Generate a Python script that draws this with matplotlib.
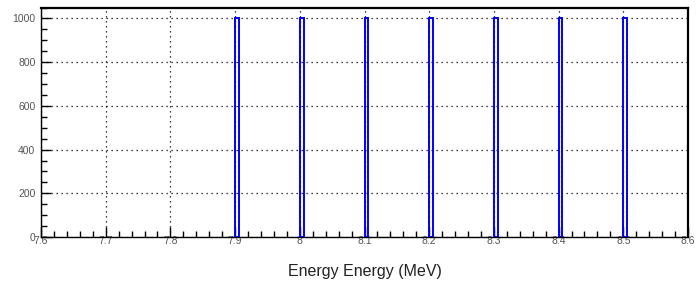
import matplotlib
matplotlib.use("Agg")
import matplotlib.pyplot as plt
from matplotlib.ticker import MultipleLocator

plt.rcParams['font.family'] = ['Liberation Sans', 'DejaVu Sans']

# Data: line energies (MeV) and counts
energies = [7.9, 8.0, 8.1, 8.2, 8.3, 8.4, 8.5]
counts = [1000, 1000, 1000, 1000, 1000, 1000, 1000]
bin_width = 0.006
x_ticks = [7.6, 7.7, 7.8, 7.9, 8.0, 8.1, 8.2, 8.3, 8.4, 8.5, 8.6]
x_tick_labels = ["7.6", "7.7", "7.8", "7.9", "8", "8.1", "8.2", "8.3", "8.4", "8.5", "8.6"]
x_label = "Energy Energy (MeV)"

fig = plt.figure(figsize=(6.98, 2.89), dpi=100)
ax = fig.add_axes([41/698, 1-237/289, (688-41)/698, (237-7.5)/289])

ax.bar(energies, counts, width=bin_width, align='edge', fill=False,
       edgecolor='#0000ff', linewidth=1.4, zorder=3)

ax.set_xlim(7.6, 8.6)
ax.set_ylim(0, 1050)
ax.set_xticks(x_ticks)
ax.set_xticklabels(x_tick_labels)
ax.xaxis.set_minor_locator(MultipleLocator(0.02))
ax.yaxis.set_major_locator(MultipleLocator(200))
ax.yaxis.set_minor_locator(MultipleLocator(50))

ax.tick_params(axis='both', which='both', direction='in', labelsize=7.5,
               labelcolor='#555555', width=1.0, color='black')
ax.tick_params(axis='x', which='major', length=7, pad=-0.5)
ax.tick_params(axis='x', which='minor', length=4)
ax.tick_params(axis='y', which='major', length=7, pad=4)
ax.tick_params(axis='y', which='minor', length=4)

ax.grid(True, which='major', linestyle=(0, (1, 3)), color='black', linewidth=0.9, zorder=1)
for s in ax.spines.values():
    s.set_linewidth(1.0)
ax.spines['top'].set_linewidth(1.6)
ax.spines['right'].set_linewidth(1.6)

ax.set_xlabel(x_label, fontsize=11.5, color='#222222', labelpad=13)

fig.savefig("out.png", dpi=100)
